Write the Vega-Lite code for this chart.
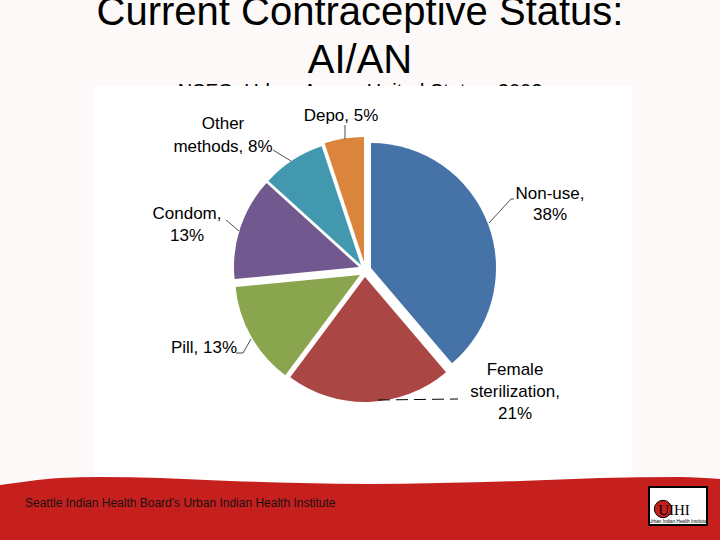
{
  "$schema": "https://vega.github.io/schema/vega-lite/v6.json",
  "width": 720,
  "height": 540,
  "padding": 0,
  "autosize": {"type": "none"},
  "background": "#fdf9f9",
  "config": {"view": {"stroke": null}, "axis": {"disable": true}, "text": {"font": "Liberation Sans"}},
  "data": {"values": [{}]},
  "datasets": {
    "slices": [
      {"order": 1, "method": "Non-use", "share": 38, "label": "Non-use,\n38%"},
      {"order": 2, "method": "Female sterilization", "share": 21, "label": "Female\nsterilization,\n21%"},
      {"order": 3, "method": "Pill", "share": 13, "label": "Pill, 13%"},
      {"order": 4, "method": "Condom", "share": 13, "label": "Condom,\n13%"},
      {"order": 5, "method": "Other methods", "share": 8, "label": "Other\nmethods, 8%"},
      {"order": 6, "method": "Depo", "share": 5, "label": "Depo, 5%"}
    ],
    "band": [
      {"px": 0, "top": 485}, {"px": 30, "top": 481}, {"px": 60, "top": 478}, {"px": 100, "top": 477},
      {"px": 160, "top": 478}, {"px": 230, "top": 481}, {"px": 300, "top": 483}, {"px": 370, "top": 484},
      {"px": 440, "top": 483}, {"px": 520, "top": 481}, {"px": 600, "top": 478}, {"px": 680, "top": 477}, {"px": 720, "top": 479}
    ],
    "titles": [
      {"line": "Current Contraceptive Status:\nAI/AN"}
    ],
    "subtitle": [{"line": "NSFG: Urban Areas, United States, 2002"}],
    "footer": [{"line": "Seattle Indian Health Board's Urban Indian Health Institute"}]
  },
  "layer": [
    {
      "data": {"name": "titles"},
      "mark": {"type": "text", "fontSize": 40, "lineBreak": "\n", "lineHeight": 48, "align": "center", "baseline": "alphabetic", "color": "#000000"},
      "encoding": {
        "x": {"datum": 360, "type": "quantitative", "scale": {"domain": [0, 720], "nice": false, "zero": false}},
        "y": {"datum": 25, "type": "quantitative", "scale": {"domain": [540, 0], "nice": false, "zero": false}},
        "text": {"field": "line"}
      }
    },
    {
      "data": {"name": "subtitle"},
      "mark": {"type": "text", "fontSize": 20, "align": "center", "baseline": "alphabetic", "color": "#000000"},
      "encoding": {
        "x": {"datum": 360, "type": "quantitative"},
        "y": {"datum": 98, "type": "quantitative"},
        "text": {"field": "line"}
      }
    },
    {
      "mark": {"type": "rect", "color": "#ffffff"},
      "encoding": {
        "x": {"datum": 94, "type": "quantitative"},
        "x2": {"datum": 632},
        "y": {"datum": 86, "type": "quantitative"},
        "y2": {"datum": 482}
      }
    },
    {
      "data": {"name": "band"},
      "mark": {"type": "area", "color": "#c5201e", "interpolate": "monotone"},
      "encoding": {
        "x": {"field": "px", "type": "quantitative"},
        "y": {"field": "top", "type": "quantitative"},
        "y2": {"datum": 540}
      }
    },
    {
      "data": {"name": "footer"},
      "mark": {"type": "text", "fontSize": 12, "align": "left", "baseline": "middle", "color": "#1a1010"},
      "encoding": {
        "x": {"datum": 25, "type": "quantitative"},
        "y": {"datum": 503, "type": "quantitative"},
        "text": {"field": "line"}
      }
    },
    {
      "mark": {"type": "rect", "color": "#ffffff", "stroke": "#000000", "strokeWidth": 2},
      "encoding": {
        "x": {"datum": 649, "type": "quantitative"},
        "x2": {"datum": 707},
        "y": {"datum": 487, "type": "quantitative"},
        "y2": {"datum": 525}
      }
    },
    {
      "mark": {"type": "point", "filled": true, "color": "#c5201e", "stroke": "#000000", "strokeWidth": 1, "size": 300, "opacity": 1},
      "encoding": {
        "x": {"datum": 663, "type": "quantitative"},
        "y": {"datum": 509, "type": "quantitative"}
      }
    },
    {
      "data": {"values": [{"t": "UIHI"}]},
      "mark": {"type": "text", "fontSize": 15, "font": "Liberation Serif", "align": "center", "baseline": "middle", "color": "#000000", "letterSpacing": 3},
      "encoding": {
        "x": {"datum": 674, "type": "quantitative"},
        "y": {"datum": 510, "type": "quantitative"},
        "text": {"field": "t"}
      }
    },
    {
      "data": {"values": [{"t": "Urban Indian Health Institute"}]},
      "mark": {"type": "text", "fontSize": 4.6, "align": "center", "baseline": "middle", "color": "#000000"},
      "encoding": {
        "x": {"datum": 678, "type": "quantitative"},
        "y": {"datum": 522, "type": "quantitative"},
        "text": {"field": "t"}
      }
    },
    {
      "data": {"name": "slices"},
      "transform": [
        {"stack": "share", "groupby": [], "sort": [{"field": "order"}], "as": ["start", "end"]},
        {"filter": "datum.order == 1"}
      ],
      "mark": {"type": "arc", "radius": 125},
      "encoding": {
        "x": {"datum": 371, "type": "quantitative"},
        "y": {"datum": 268, "type": "quantitative"},
        "theta": {"field": "start", "type": "quantitative", "scale": {"domain": [0, 98]}, "stack": null},
        "theta2": {"field": "end"},
        "color": {"field": "method", "legend": null, "scale": {"domain": ["Non-use", "Female sterilization", "Pill", "Condom", "Other methods", "Depo"], "range": ["#4572a7", "#aa4643", "#89a54e", "#71588f", "#4198af", "#db843d"]}}
      }
    },
    {
      "data": {"name": "slices"},
      "transform": [
        {"stack": "share", "groupby": [], "sort": [{"field": "order"}], "as": ["start", "end"]},
        {"filter": "datum.order == 2"}
      ],
      "mark": {"type": "arc", "radius": 125},
      "encoding": {
        "x": {"datum": 365, "type": "quantitative"},
        "y": {"datum": 277, "type": "quantitative"},
        "theta": {"field": "start", "type": "quantitative", "stack": null},
        "theta2": {"field": "end"},
        "color": {"field": "method", "legend": null}
      }
    },
    {
      "data": {"name": "slices"},
      "transform": [
        {"stack": "share", "groupby": [], "sort": [{"field": "order"}], "as": ["start", "end"]},
        {"filter": "datum.order == 3"}
      ],
      "mark": {"type": "arc", "radius": 125},
      "encoding": {
        "x": {"datum": 360, "type": "quantitative"},
        "y": {"datum": 275, "type": "quantitative"},
        "theta": {"field": "start", "type": "quantitative", "stack": null},
        "theta2": {"field": "end"},
        "color": {"field": "method", "legend": null}
      }
    },
    {
      "data": {"name": "slices"},
      "transform": [
        {"stack": "share", "groupby": [], "sort": [{"field": "order"}], "as": ["start", "end"]},
        {"filter": "datum.order == 4"}
      ],
      "mark": {"type": "arc", "radius": 125},
      "encoding": {
        "x": {"datum": 359, "type": "quantitative"},
        "y": {"datum": 267, "type": "quantitative"},
        "theta": {"field": "start", "type": "quantitative", "stack": null},
        "theta2": {"field": "end"},
        "color": {"field": "method", "legend": null}
      }
    },
    {
      "data": {"name": "slices"},
      "transform": [
        {"stack": "share", "groupby": [], "sort": [{"field": "order"}], "as": ["start", "end"]},
        {"filter": "datum.order == 5"}
      ],
      "mark": {"type": "arc", "radius": 125},
      "encoding": {
        "x": {"datum": 361, "type": "quantitative"},
        "y": {"datum": 265, "type": "quantitative"},
        "theta": {"field": "start", "type": "quantitative", "stack": null},
        "theta2": {"field": "end"},
        "color": {"field": "method", "legend": null}
      }
    },
    {
      "data": {"name": "slices"},
      "transform": [
        {"stack": "share", "groupby": [], "sort": [{"field": "order"}], "as": ["start", "end"]},
        {"filter": "datum.order == 6"}
      ],
      "mark": {"type": "arc", "radius": 125},
      "encoding": {
        "x": {"datum": 364, "type": "quantitative"},
        "y": {"datum": 262, "type": "quantitative"},
        "theta": {"field": "start", "type": "quantitative", "stack": null},
        "theta2": {"field": "end"},
        "color": {"field": "method", "legend": null}
      }
    },
    {
      "mark": {"type": "rule", "color": "#000000", "strokeWidth": 0.7},
      "encoding": {"x": {"datum": 345, "type": "quantitative"}, "x2": {"datum": 345}, "y": {"datum": 125, "type": "quantitative"}, "y2": {"datum": 139}}
    },
    {
      "mark": {"type": "rule", "color": "#000000", "strokeWidth": 0.7},
      "encoding": {"x": {"datum": 273, "type": "quantitative"}, "x2": {"datum": 291}, "y": {"datum": 150, "type": "quantitative"}, "y2": {"datum": 161}}
    },
    {
      "mark": {"type": "rule", "color": "#000000", "strokeWidth": 0.7},
      "encoding": {"x": {"datum": 226, "type": "quantitative"}, "x2": {"datum": 239}, "y": {"datum": 220, "type": "quantitative"}, "y2": {"datum": 231}}
    },
    {
      "mark": {"type": "rule", "color": "#000000", "strokeWidth": 0.7},
      "encoding": {"x": {"datum": 514, "type": "quantitative"}, "x2": {"datum": 511}, "y": {"datum": 199, "type": "quantitative"}, "y2": {"datum": 199}}
    },
    {
      "mark": {"type": "rule", "color": "#000000", "strokeWidth": 0.7},
      "encoding": {"x": {"datum": 511, "type": "quantitative"}, "x2": {"datum": 489}, "y": {"datum": 199, "type": "quantitative"}, "y2": {"datum": 223}}
    },
    {
      "mark": {"type": "rule", "color": "#000000", "strokeWidth": 0.7},
      "encoding": {"x": {"datum": 236, "type": "quantitative"}, "x2": {"datum": 243}, "y": {"datum": 353, "type": "quantitative"}, "y2": {"datum": 353}}
    },
    {
      "mark": {"type": "rule", "color": "#000000", "strokeWidth": 0.7},
      "encoding": {"x": {"datum": 243, "type": "quantitative"}, "x2": {"datum": 251}, "y": {"datum": 353, "type": "quantitative"}, "y2": {"datum": 339}}
    },
    {
      "mark": {"type": "rule", "color": "#000000", "strokeWidth": 1, "strokeDash": [12, 6]},
      "encoding": {"x": {"datum": 378, "type": "quantitative"}, "x2": {"datum": 458}, "y": {"datum": 400, "type": "quantitative"}, "y2": {"datum": 399}}
    },
    {
      "data": {"name": "slices"},
      "transform": [{"filter": "datum.order == 1"}],
      "mark": {"type": "text", "fontSize": 17, "lineBreak": "\n", "lineHeight": 21, "align": "center", "baseline": "middle", "color": "#000000"},
      "encoding": {"x": {"datum": 550, "type": "quantitative"}, "y": {"datum": 194, "type": "quantitative"}, "text": {"field": "label"}}
    },
    {
      "data": {"name": "slices"},
      "transform": [{"filter": "datum.order == 2"}],
      "mark": {"type": "text", "fontSize": 17, "lineBreak": "\n", "lineHeight": 22, "align": "center", "baseline": "middle", "color": "#000000"},
      "encoding": {"x": {"datum": 515, "type": "quantitative"}, "y": {"datum": 370, "type": "quantitative"}, "text": {"field": "label"}}
    },
    {
      "data": {"name": "slices"},
      "transform": [{"filter": "datum.order == 3"}],
      "mark": {"type": "text", "fontSize": 17, "lineBreak": "\n", "align": "center", "baseline": "middle", "color": "#000000"},
      "encoding": {"x": {"datum": 204, "type": "quantitative"}, "y": {"datum": 348, "type": "quantitative"}, "text": {"field": "label"}}
    },
    {
      "data": {"name": "slices"},
      "transform": [{"filter": "datum.order == 4"}],
      "mark": {"type": "text", "fontSize": 17, "lineBreak": "\n", "lineHeight": 22, "align": "center", "baseline": "middle", "color": "#000000"},
      "encoding": {"x": {"datum": 187, "type": "quantitative"}, "y": {"datum": 214, "type": "quantitative"}, "text": {"field": "label"}}
    },
    {
      "data": {"name": "slices"},
      "transform": [{"filter": "datum.order == 5"}],
      "mark": {"type": "text", "fontSize": 17, "lineBreak": "\n", "lineHeight": 23, "align": "center", "baseline": "middle", "color": "#000000"},
      "encoding": {"x": {"datum": 223, "type": "quantitative"}, "y": {"datum": 124, "type": "quantitative"}, "text": {"field": "label"}}
    },
    {
      "data": {"name": "slices"},
      "transform": [{"filter": "datum.order == 6"}],
      "mark": {"type": "text", "fontSize": 17, "lineBreak": "\n", "align": "center", "baseline": "middle", "color": "#000000"},
      "encoding": {"x": {"datum": 341, "type": "quantitative"}, "y": {"datum": 116, "type": "quantitative"}, "text": {"field": "label"}}
    }
  ]
}
